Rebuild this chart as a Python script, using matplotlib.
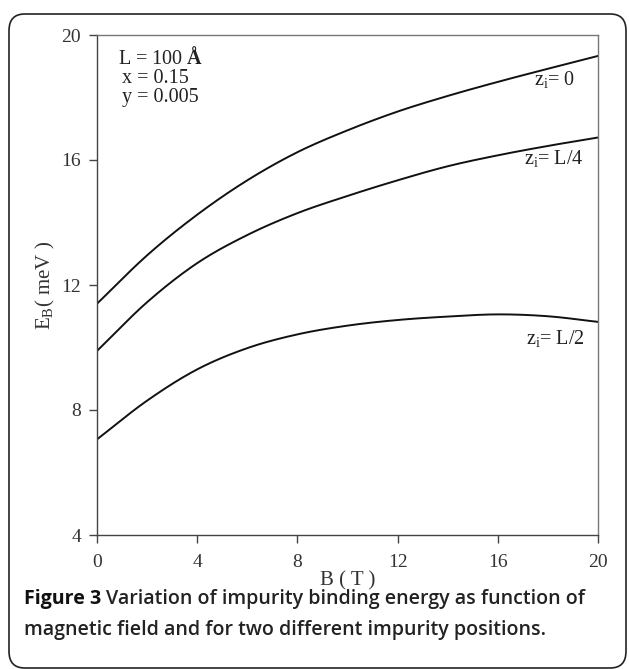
import matplotlib
matplotlib.use("Agg")
import matplotlib.pyplot as plt
from matplotlib.patches import FancyBboxPatch
import numpy as np

# ---- data ----
B = [0, 2, 4, 6, 8, 10, 12, 14, 16, 18, 20]
E_z0 = [11.4, 12.95, 14.25, 15.35, 16.25, 16.95, 17.55, 18.05, 18.5, 18.92, 19.33]
E_L4 = [9.89, 11.45, 12.7, 13.6, 14.3, 14.85, 15.35, 15.8, 16.15, 16.45, 16.72]
E_L2 = [7.06, 8.3, 9.3, 9.98, 10.42, 10.7, 10.88, 10.99, 11.06, 11.0, 10.82]
xticks = [0, 4, 8, 12, 16, 20]
yticks = [4, 8, 12, 16, 20]

plt.rcParams['mathtext.fontset'] = 'custom'
plt.rcParams['mathtext.rm'] = 'Liberation Serif'
plt.rcParams['mathtext.it'] = 'Liberation Serif:italic'
plt.rcParams['mathtext.bf'] = 'Liberation Serif:bold'
SERIF = 'Liberation Serif'

W, H = 629, 669
fig = plt.figure(figsize=(W / 100, H / 100), dpi=100)

# rounded border
border = FancyBboxPatch((9 / W, 1 - 668 / H), (626 - 9) / W, (668 - 14) / H,
                        boxstyle="round,pad=0,rounding_size=0.025",
                        transform=fig.transFigure, fill=False,
                        edgecolor='#222222', linewidth=1.2, clip_on=False)
fig.patches.append(border)

ax = fig.add_axes([97 / W, 1 - 535 / H, 501 / W, 500 / H])


def smooth(x, y):
    x = np.asarray(x, float)
    y = np.asarray(y, float)
    xs = np.linspace(x[0], x[-1], 300)
    out = []
    for xv in xs:
        i = min(np.searchsorted(x, xv, side='right') - 1, len(x) - 2)
        i = max(i, 0)
        p0 = y[i - 1] if i > 0 else 2 * y[i] - y[i + 1]
        p1, p2 = y[i], y[i + 1]
        p3 = y[i + 2] if i + 2 < len(y) else 2 * y[i + 1] - y[i]
        t = (xv - x[i]) / (x[i + 1] - x[i])
        out.append(0.5 * ((2 * p1) + (-p0 + p2) * t + (2 * p0 - 5 * p1 + 4 * p2 - p3) * t ** 2
                          + (-p0 + 3 * p1 - 3 * p2 + p3) * t ** 3))
    return xs, np.array(out)


for series in (E_z0, E_L4, E_L2):
    xs, ys = smooth(B, series)
    ax.plot(xs, ys, color='#111111', linewidth=1.4)

ax.set_xlim(0, 20)
ax.set_ylim(4, 20)
ax.set_xticks(xticks)
ax.set_yticks(yticks)
for s in ax.spines.values():
    s.set_color('#777777')
    s.set_linewidth(1.0)
ax.spines['left'].set_color('#444444')
ax.spines['bottom'].set_color('#444444')
ax.tick_params(axis='both', direction='out', length=5.5, width=1.0, color='#444444',
               labelsize=14, labelcolor='#333333')
ax.tick_params(axis='y', pad=6)
ax.tick_params(axis='x', pad=8)
for lab in ax.get_xticklabels() + ax.get_yticklabels():
    lab.set_fontfamily(SERIF)

ax.set_xlabel('B ( T )', fontfamily=SERIF, fontsize=15, color='#333333', labelpad=0)
ax.set_ylabel(r'E$_\mathrm{B}$( meV )', fontfamily=SERIF, fontsize=15, color='#333333', labelpad=3)

TS = 14.5
ax.text(0.84, 19.25, r'L = 100 $\mathbf{Å}$', fontfamily=SERIF, fontsize=TS, color='#222222', va='center')
ax.text(1.0, 18.62, 'x = 0.15', fontfamily=SERIF, fontsize=TS, color='#222222', va='center')
ax.text(1.0, 18.0, 'y = 0.005', fontfamily=SERIF, fontsize=TS, color='#222222', va='center')

ax.text(17.44, 18.56, r'z$_\mathrm{i}$= 0', fontfamily=SERIF, fontsize=TS, color='#222222', va='center')
ax.text(17.04, 16.06, r'z$_\mathrm{i}$= L/4', fontfamily=SERIF, fontsize=TS, color='#222222', va='center')
ax.text(17.12, 10.3, r'z$_\mathrm{i}$= L/2', fontfamily=SERIF, fontsize=TS, color='#222222', va='center')

CS = 14.1
cap1 = fig.text(24 / W, 1 - 599 / H, 'Figure 3', fontfamily='Open Sans', fontweight='bold',
                fontsize=CS, color='#111111', va='center')
fig.canvas.draw()
bb = cap1.get_window_extent()
fig.text((bb.x1 + 5) / W, 1 - 599 / H,
         'Variation of impurity binding energy as function of',
         fontfamily='Open Sans', fontweight='semibold', fontsize=CS, color='#222222', va='center')
fig.text(24 / W, 1 - 630 / H, 'magnetic field and for two different impurity positions.',
         fontfamily='Open Sans', fontweight='semibold', fontsize=CS, color='#222222', va='center')

fig.savefig('out.png', dpi=100)
